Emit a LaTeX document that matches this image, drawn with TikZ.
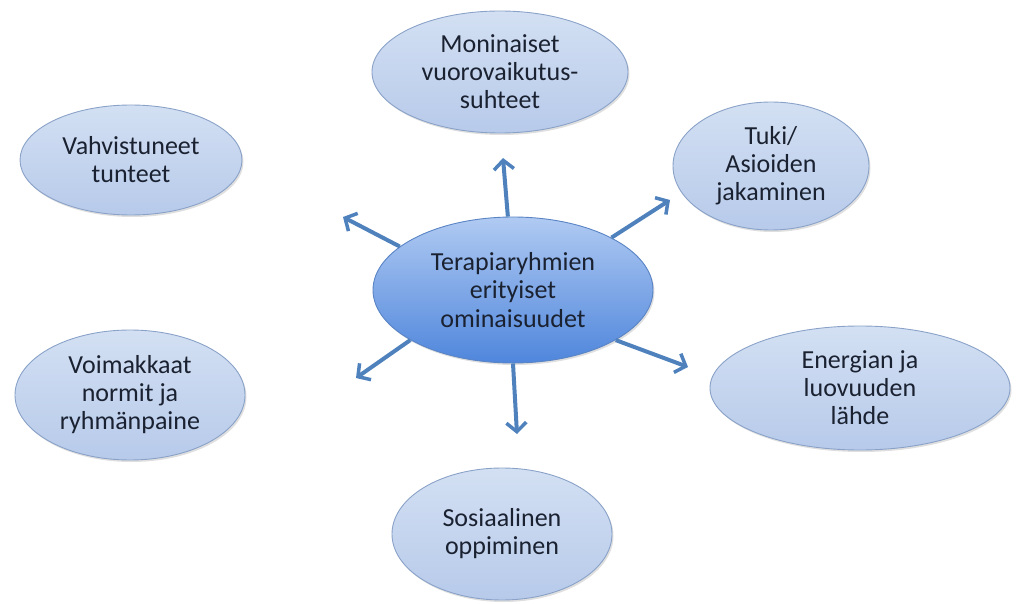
\documentclass[tikz,border=0pt]{standalone}
\usepackage{fontspec}
\setmainfont{Carlito}
\usepackage{xcolor}
\usetikzlibrary{arrows.meta,positioning,shapes.geometric,shadows}
\definecolor{topictop}{HTML}{D3E0F3}
\definecolor{topicbot}{HTML}{B7CAEA}
\definecolor{topicline}{HTML}{8AA2C8}
\definecolor{coretop}{HTML}{B0CAF2}
\definecolor{corebot}{HTML}{4F86DC}
\definecolor{coreline}{HTML}{5A84C4}
\definecolor{arrowblue}{HTML}{4F81BD}
\definecolor{textdark}{HTML}{1A2130}

\begin{document}
\begin{tikzpicture}[x=1pt, y=-1pt,
topic/.style={ellipse, draw=topicline, line width=0.9pt, top color=topictop, bottom color=topicbot, inner sep=0pt, align=center, text=textdark, font=\fontsize{26}{28}\selectfont, drop shadow={opacity=0.25, shadow xshift=1.5pt, shadow yshift=-2pt}},
core/.style={ellipse, draw=coreline, line width=0.9pt, top color=coretop, bottom color=corebot, inner sep=0pt, align=center, text=textdark, font=\fontsize{26}{28.5}\selectfont, drop shadow={opacity=0.25, shadow xshift=1.5pt, shadow yshift=-2pt}},
arrow/.style={-{Straight Barb[length=9pt, width=20pt, line width=3.5pt]}, line width=4pt, draw=arrowblue}
]
\useasboundingbox (0,0) rectangle (1021,604);
\node[core, minimum width=280pt, minimum height=146pt] (core) at (513,290) {Terapiaryhmien\\erityiset\\ominaisuudet};
\node[topic, minimum width=256pt, minimum height=122pt] (vuoro) at (500,72) {Moninaiset\\vuorovaikutus-\\suhteet};
\node[topic, minimum width=196pt, minimum height=128pt] (tuki) at (771,166) {Tuki/\\Asioiden\\jakaminen};
\node[topic, minimum width=222pt, minimum height=110pt] (tunne) at (131,160) {Vahvistuneet\\tunteet};
\node[topic, minimum width=300pt, minimum height=124pt] (energia) at (860,388) {Energian ja\\luovuuden\\lähde};
\node[topic, minimum width=230pt, minimum height=130pt] (normi) at (130,395) {Voimakkaat\\normit ja\\ryhmänpaine};
\node[topic, minimum width=220pt, minimum height=132pt] (oppi) at (502,534) {Sosiaalinen\\oppiminen};
% arrow tips
\coordinate (tipN) at (503,158);
\coordinate (tipNE) at (670,200);
\coordinate (tipNW) at (343,217);
\coordinate (tipSW) at (356,378);
\coordinate (tipS) at (517,434);
\coordinate (tipSE) at (688,367);
\draw[arrow] (core.94) -- (tipN);
\draw[arrow] (core.28) -- (tipNE);
\draw[arrow] (core.159) -- (tipNW);
\draw[arrow] (core.206) -- (tipSW);
\draw[arrow] (core.-90) -- (tipS);
\draw[arrow] (core.-26) -- (tipSE);
\end{tikzpicture}
\end{document}
